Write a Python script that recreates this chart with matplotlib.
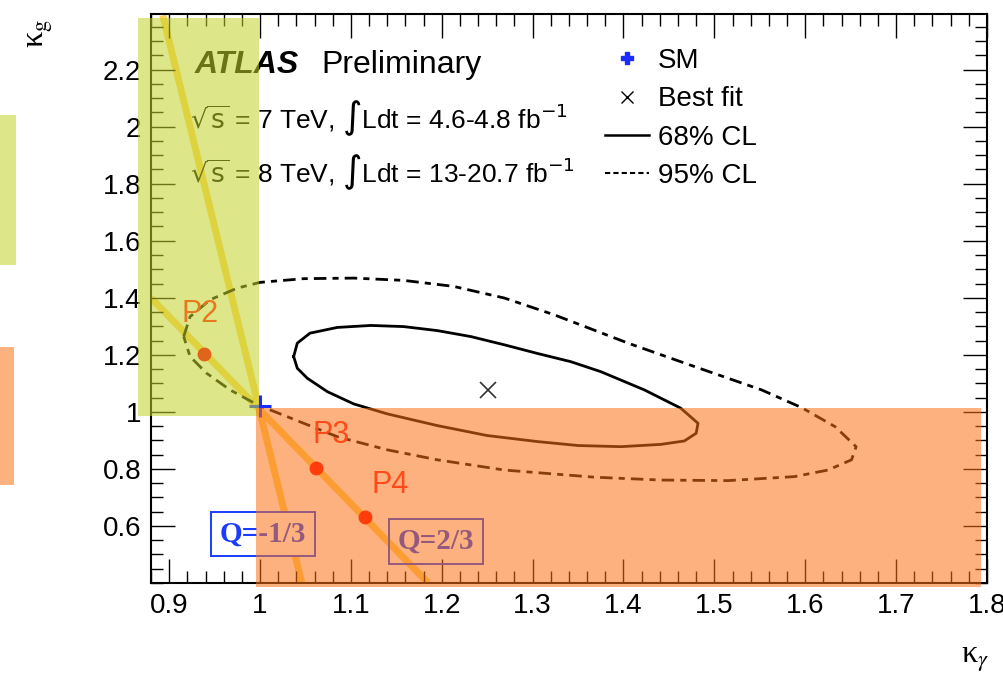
import matplotlib
matplotlib.use('Agg')
import matplotlib.pyplot as plt
from matplotlib.patches import Rectangle
from matplotlib.lines import Line2D
from matplotlib.ticker import MultipleLocator, FuncFormatter

plt.rcParams['font.family'] = ['Liberation Sans', 'DejaVu Sans']

# 68% CL contour (kappa_gamma, kappa_g)
cl68_kgam = [1.037, 1.041, 1.055, 1.085, 1.122, 1.158, 1.195, 1.232, 1.269, 1.305,
             1.342, 1.375, 1.423, 1.463, 1.482, 1.480, 1.467, 1.441, 1.397, 1.350,
             1.305, 1.250, 1.195, 1.140, 1.103, 1.074, 1.052, 1.041, 1.037]
cl68_kg = [1.194, 1.241, 1.276, 1.296, 1.303, 1.299, 1.285, 1.264, 1.235, 1.205,
           1.176, 1.141, 1.077, 1.013, 0.960, 0.925, 0.898, 0.886, 0.878, 0.882,
           0.896, 0.917, 0.952, 0.993, 1.028, 1.071, 1.118, 1.153, 1.194]

# 95% CL contour
cl95_kgam = [0.916, 0.923, 0.945, 0.975, 1.000, 1.048, 1.103, 1.158, 1.213, 1.269,
             1.324, 1.405, 1.478, 1.552, 1.596, 1.633, 1.656, 1.651, 1.625, 1.588,
             1.515, 1.441, 1.368, 1.269, 1.195, 1.140, 1.085, 1.030, 0.997, 0.967,
             0.941, 0.923, 0.916]
cl95_kg = [1.264, 1.334, 1.393, 1.434, 1.454, 1.467, 1.469, 1.461, 1.440, 1.399,
           1.340, 1.241, 1.159, 1.077, 1.015, 0.948, 0.878, 0.832, 0.796, 0.773,
           0.759, 0.761, 0.771, 0.796, 0.832, 0.867, 0.913, 0.983, 1.025, 1.077,
           1.136, 1.194, 1.264]

best_fit = (1.251, 1.077)
sm_point = (1.0, 1.02)

# benchmark points
bench_names = ['P2', 'P3', 'P4']
bench_kgam = [0.938, 1.062, 1.116]
bench_kg = [1.202, 0.802, 0.631]

# charge lines
q23_kgam = [0.88, 1.185]
q23_kg = [1.399, 0.40]
q13_kgam = [0.893, 1.046]
q13_kg = [2.39, 0.40]

fig = plt.figure(figsize=(10.04, 6.78), dpi=100)
ax = fig.add_axes([0.1504, 0.1401, 0.8326, 0.8393])
ax.set_xlim(0.88, 1.8)
ax.set_ylim(0.4, 2.395)

yel_c = (195/255, 210/255, 42/255)
org_c = (251/255, 114/255, 20/255)
a_ov = 0.55

# charge lines (under the shaded regions)
ax.plot(q23_kgam, q23_kg, color='#ffd25a', lw=5, zorder=1.5, solid_capstyle='butt')
ax.plot(q13_kgam, q13_kg, color='#ffd25a', lw=5, zorder=1.5, solid_capstyle='butt')

# contours
ax.plot(cl68_kgam, cl68_kg, color='black', lw=2.0, zorder=2)
ax.plot(cl95_kgam, cl95_kg, color='black', lw=2.0, ls=(0, (4.5, 2.2, 2.2, 2.2)), zorder=2)

ax.plot(*sm_point, marker='+', color='#1a2cff', ms=16, mew=2.2, zorder=3.5)
ax.plot(*best_fit, marker='x', color='#333333', ms=11, mew=1.2, zorder=5)

# Q boxes
ax.text(1.003, 0.572, 'Q=-1/3', family='Liberation Serif', weight='bold', fontsize=21,
        color='#1a3cff', ha='center', va='center', zorder=3,
        bbox=dict(boxstyle='square,pad=0.3', fc='white', ec='#1a3cff', lw=1.4))
ax.text(1.194, 0.546, 'Q=2/3', family='Liberation Serif', weight='bold', fontsize=21,
        color='#1a3cff', ha='center', va='center', zorder=3,
        bbox=dict(boxstyle='square,pad=0.3', fc='none', ec='#1a3cff', lw=1.4))

# labels
ax.text(0.0528, 0.896, 'ATLAS', fontsize=23, weight='bold', style='italic',
        transform=ax.transAxes, zorder=3)
ax.text(0.204, 0.896, 'Preliminary', fontsize=23, transform=ax.transAxes, zorder=3)
ax.text(0.0468, 0.800, r'$\sqrt{\mathrm{s}}$ = 7 TeV, $\int$Ldt = 4.6-4.8 fb$^{\mathrm{-1}}$',
        fontsize=19, transform=ax.transAxes, math_fontfamily='dejavusans', zorder=3)
ax.text(0.0468, 0.705, r'$\sqrt{\mathrm{s}}$ = 8 TeV, $\int$Ldt = 13-20.7 fb$^{\mathrm{-1}}$',
        fontsize=19, transform=ax.transAxes, math_fontfamily='dejavusans', zorder=3)

# shaded regions
ax.add_patch(Rectangle((0.866, 0.986), 0.9985 - 0.866, 2.38 - 0.986, fc=yel_c, alpha=a_ov,
                       lw=0, zorder=4, clip_on=False))
ax.add_patch(Rectangle((0.996, 0.386), 1.793 - 0.996, 1.014 - 0.386, fc=org_c, alpha=a_ov,
                       lw=0, zorder=4, clip_on=False))
fig.patches.append(Rectangle((0, 0.609), 0.0159, 0.221, fc=yel_c, alpha=a_ov, lw=0,
                             transform=fig.transFigure, figure=fig))
fig.patches.append(Rectangle((0, 0.285), 0.0139, 0.203, fc=org_c, alpha=a_ov, lw=0,
                             transform=fig.transFigure, figure=fig))

# benchmark points
pt_cols = ['#e0641a', '#ff3c0a', '#ff3c0a']
lab_cols = ['#e8781e', '#ff4a1a', '#ff4a1a']
lab_pos = [(0.934, 1.342), (1.0785, 0.919), (1.1436, 0.744)]
for name, xk, yk, pc, lc, lp in zip(bench_names, bench_kgam, bench_kg, pt_cols, lab_cols, lab_pos):
    ax.plot(xk, yk, 'o', color=pc, ms=9, zorder=6)
    ax.text(lp[0], lp[1], name, color=lc, fontsize=22, ha='center', va='center', zorder=6)

# axes styling
for s in ax.spines.values():
    s.set_linewidth(1.5)
    s.set_zorder(2.5)
ax.set_xticks([0.9, 1.0, 1.1, 1.2, 1.3, 1.4, 1.5, 1.6, 1.7, 1.8])
ax.set_yticks([0.6, 0.8, 1.0, 1.2, 1.4, 1.6, 1.8, 2.0, 2.2])
ax.xaxis.set_minor_locator(MultipleLocator(0.02))
ax.yaxis.set_minor_locator(MultipleLocator(0.05))
fmt = FuncFormatter(lambda v, p: '%g' % round(v, 2))
ax.xaxis.set_major_formatter(fmt)
ax.yaxis.set_major_formatter(fmt)
ax.tick_params(which='both', direction='in', top=True, right=True, labelsize=20, width=1)
ax.tick_params(which='major', length=17, pad=7)
ax.tick_params(which='minor', length=8.5)

fig.text(0.040, 0.950, 'κ$_{\\mathrm{g}}$', rotation=90, fontsize=23, family='Liberation Serif',
         math_fontfamily='stix', ha='center', va='center')
fig.text(0.971, 0.027, 'κ$_{\\gamma}$', fontsize=23, family='Liberation Serif',
         math_fontfamily='stix', ha='center', va='center')

# legend
handles = [Line2D([], [], ls='none', marker='P', color='#1a2cff', ms=8),
           Line2D([], [], ls='none', marker='x', color='black', ms=9, mew=1),
           Line2D([], [], color='black', lw=1.8),
           Line2D([], [], color='black', lw=1.5, ls=(0, (2.5, 1.5)))]
labels = ['SM', 'Best fit', '68% CL', '95% CL']
ax.legend(handles, labels, loc='upper left', bbox_to_anchor=(0.543, 0.940), frameon=False,
          fontsize=20, labelspacing=0.44, handlelength=1.6, handletextpad=0.3,
          borderpad=0, borderaxespad=0)

fig.savefig('out.png', dpi=100)
